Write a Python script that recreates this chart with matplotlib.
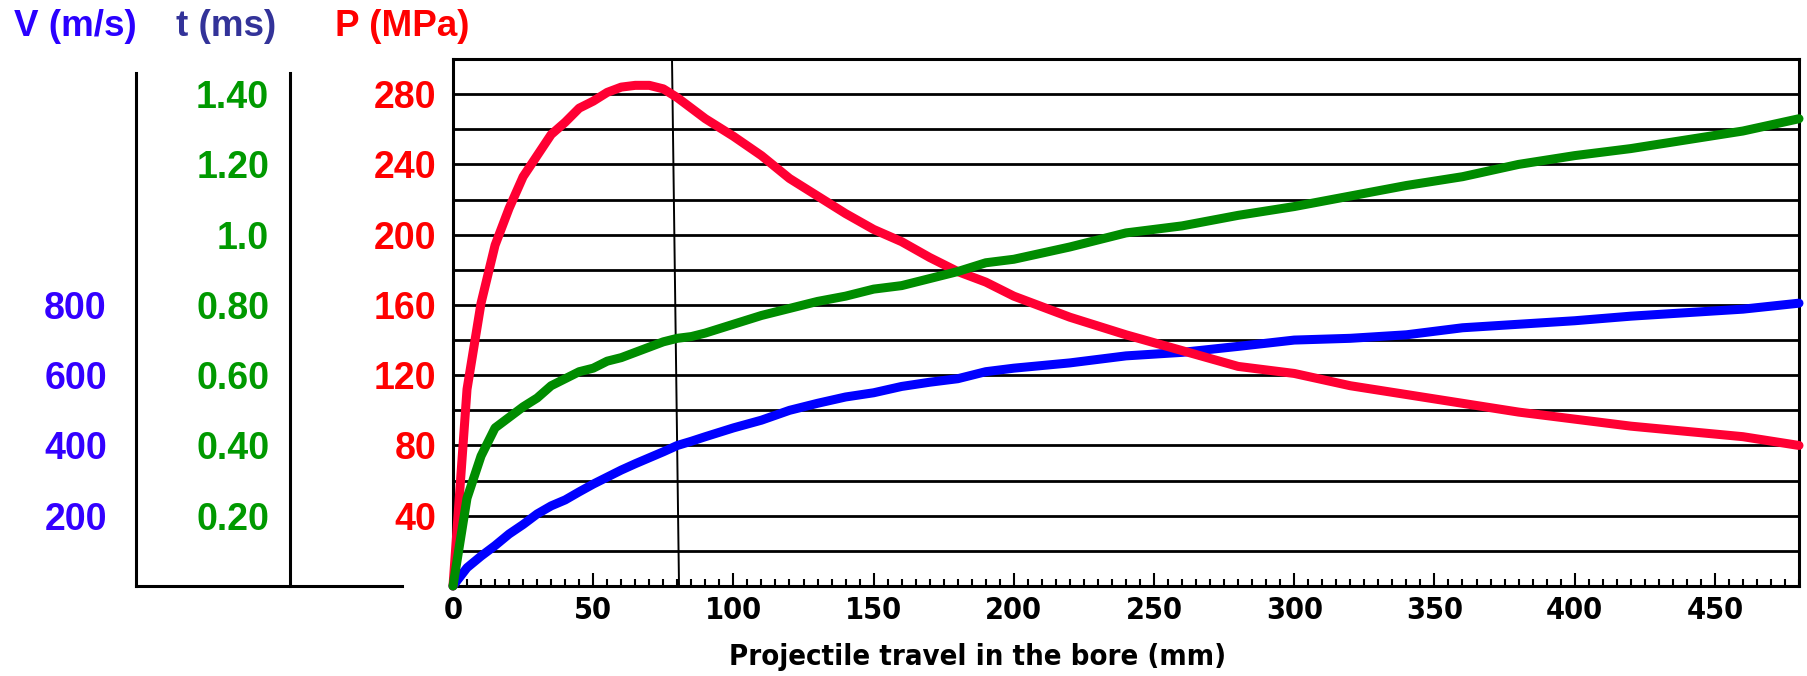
import matplotlib
matplotlib.use("Agg")
import matplotlib.pyplot as plt
from matplotlib.ticker import MultipleLocator
from matplotlib import font_manager as fm

# Projectile travel (mm)
travel = [0, 5, 10, 15, 20, 25, 30, 35, 40, 45, 50, 55, 60, 65, 70, 75, 80, 85, 90,
          100, 110, 120, 130, 140, 150, 160, 170, 180, 190, 200, 220, 240, 260, 280,
          300, 320, 340, 360, 380, 400, 420, 440, 460, 480]

# Pressure P (MPa)
pressure = [0, 112, 161, 194, 215, 233, 245, 257, 264, 272, 276, 281, 284, 285, 285,
            283, 278, 272, 266, 256, 245, 232, 222, 212, 203, 196, 187, 179, 173, 165,
            153, 143, 134, 125, 121, 114, 109, 104, 99, 95, 91, 88, 85, 80]

# Time t (ms)
time_ms = [0, 0.25, 0.37, 0.45, 0.48, 0.51, 0.535, 0.57, 0.59, 0.61, 0.62, 0.64, 0.65,
           0.665, 0.68, 0.695, 0.705, 0.71, 0.72, 0.745, 0.77, 0.79, 0.81, 0.825,
           0.845, 0.855, 0.875, 0.895, 0.92, 0.93, 0.965, 1.005, 1.025, 1.055, 1.08,
           1.11, 1.14, 1.165, 1.20, 1.225, 1.245, 1.27, 1.295, 1.33]

# Velocity V (m/s)
velocity = [0, 52, 85, 115, 148, 175, 205, 228, 245, 268, 290, 310, 330, 348, 365,
            382, 400, 412, 425, 450, 472, 500, 520, 538, 550, 568, 580, 590, 610, 620,
            635, 655, 665, 682, 700, 705, 715, 735, 745, 755, 768, 778, 788, 805]

p_ticks = [40, 80, 120, 160, 200, 240, 280]
t_ticks = [0.2, 0.4, 0.6, 0.8, 1.0, 1.2, 1.4]
t_labels = ["0.20", "0.40", "0.60", "0.80", "1.0", "1.20", "1.40"]
v_ticks = [200, 400, 600, 800]
x_ticks = [0, 50, 100, 150, 200, 250, 300, 350, 400, 450]

# thin marker line near 80 mm (slightly tilted in the original)
marker_x = [78.1, 80.6]

W, H = 1808, 676
fig = plt.figure(figsize=(W / 100, H / 100), dpi=100)

BOLD = dict(fontweight="bold", family=["Liberation Sans", "DejaVu Sans"])

# schmale Schrift fuer die x-Achse, falls vorhanden
names = [f.name for f in fm.fontManager.ttflist]
if "Liberation Sans Narrow" in names:
    NARROW = dict(fontweight="bold", family=["Liberation Sans Narrow"])
    x_fs, xl_fs = 24, 25
else:
    cond = [f for f in fm.fontManager.ttflist
            if f.name == "DejaVu Sans" and f.stretch == "condensed" and f.weight in (700, "bold")]
    if cond:
        NARROW = dict(fontweight="bold", family=["DejaVu Sans"], fontstretch="condensed")
        x_fs, xl_fs = 22, 21
    else:
        NARROW = dict(fontweight="bold", family=["Liberation Sans", "DejaVu Sans"])
        x_fs, xl_fs = 22, 23

bottom = 1 - 586 / H
height = (586 - 59) / H

# Hauptachse: Druck
ax = fig.add_axes([453 / W, bottom, (1799 - 453) / W, height])
ax.set_xlim(0, 480)
ax.set_ylim(0, 300)
ax.set_yticks(p_ticks)
ax.set_yticklabels([str(v) for v in p_ticks], color="#FF0000", fontsize=27, **BOLD)
ax.yaxis.set_minor_locator(MultipleLocator(20))
ax.grid(axis="y", which="both", color="black", linewidth=2)
ax.tick_params(axis="y", which="both", length=0, pad=12)
ax.set_xticks(x_ticks)
ax.set_xticklabels([str(v) for v in x_ticks], fontsize=x_fs, **NARROW)
ax.xaxis.set_minor_locator(MultipleLocator(5))
ax.tick_params(axis="x", which="major", direction="in", length=9.5, width=1.5, pad=7)
ax.tick_params(axis="x", which="minor", direction="in", length=5, width=1.5)
for s in ax.spines.values():
    s.set_linewidth(2.2)
ax.set_xlabel("Projectile travel in the bore (mm)", fontsize=xl_fs, **NARROW)
ax.xaxis.set_label_coords((978 - 453) / (1799 - 453), -(657 - 586) / (586 - 59))
ax.xaxis.label.set_verticalalignment("center")

ax.plot(marker_x, [300, 0], color="black", linewidth=1.4, zorder=3)

# Kurven
ax_vp = ax.twinx()
ax_vp.set_ylim(0, 1500)
ax_vp.axis("off")
ax_tp = ax.twinx()
ax_tp.set_ylim(0, 1.5)
ax_tp.axis("off")

ax_vp.plot(travel, velocity, color="#0000FF", linewidth=6.5, clip_on=False, solid_capstyle="round")
ax_vp.plot(travel, [p * 5 for p in pressure], color="#FF0033", linewidth=6.5, clip_on=False,
           solid_capstyle="round")
ax_tp.plot(travel, time_ms, color="#008C00", linewidth=6.5, clip_on=False, solid_capstyle="round")

# V-Achse links
ax_v = fig.add_axes([136 / W, bottom, (402 - 136) / W, height])
ax_v.set_ylim(0, 1500)
ax_v.set_xticks([])
ax_v.set_yticks(v_ticks)
ax_v.set_yticklabels([str(v) for v in v_ticks], color="#3300FF", fontsize=27, **BOLD)
ax_v.tick_params(axis="y", length=0, pad=21)
ax_v.spines["top"].set_visible(False)
ax_v.spines["right"].set_visible(False)
ax_v.spines["left"].set_bounds(0, 1460)
ax_v.spines["left"].set_linewidth(2.2)
ax_v.spines["bottom"].set_linewidth(2.2)
ax_v.patch.set_alpha(0)

# t-Achse
ax_t = fig.add_axes([290 / W, bottom, 0.01, height])
ax_t.set_ylim(0, 1.5)
ax_t.set_xticks([])
ax_t.set_yticks(t_ticks)
ax_t.set_yticklabels(t_labels, color="#009900", fontsize=27, **BOLD)
ax_t.tick_params(axis="y", length=0, pad=15)
for k in ["top", "right", "bottom"]:
    ax_t.spines[k].set_visible(False)
ax_t.spines["left"].set_bounds(0, 1.46)
ax_t.spines["left"].set_linewidth(2.2)
ax_t.patch.set_alpha(0)

# Achsentitel oben
fig.text(75 / W, 1 - 27 / H, "V (m/s)", color="#2A00FF", fontsize=26.5, ha="center", va="center", **BOLD)
fig.text(226 / W, 1 - 27 / H, "t (ms)", color="#333399", fontsize=26.5, ha="center", va="center", **BOLD)
fig.text(402 / W, 1 - 27 / H, "P (MPa)", color="#FF0000", fontsize=26.5, ha="center", va="center", **BOLD)

plt.savefig("out.png", dpi=100)
